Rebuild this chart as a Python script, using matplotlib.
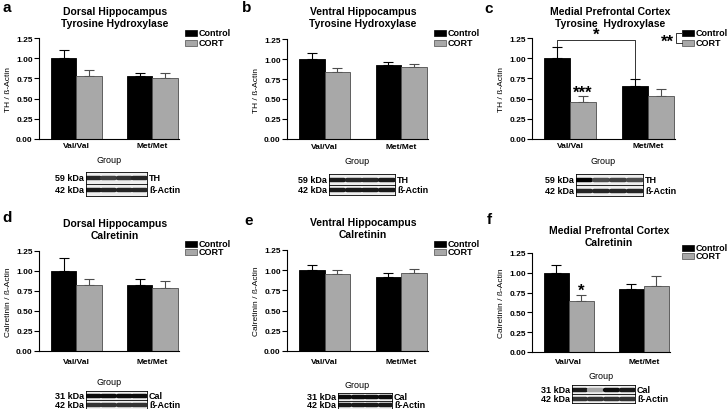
import numpy as np
import matplotlib
matplotlib.use('Agg')
import matplotlib.pyplot as plt
from matplotlib.patches import Rectangle
from matplotlib.lines import Line2D

plt.rcParams['font.family'] = ['Liberation Sans', 'DejaVu Sans']
plt.rcParams['font.weight'] = 'bold'

W, H = 727, 410

groups = ['Val/Val', 'Met/Met']

# bar heights and upper SEM
a_ctrl = [1.00, 0.78]
a_ctrl_err = [0.10, 0.04]
a_cort = [0.78, 0.76]
a_cort_err = [0.07, 0.06]

b_ctrl = [1.00, 0.92]
b_ctrl_err = [0.07, 0.04]
b_cort = [0.84, 0.90]
b_cort_err = [0.05, 0.04]

c_ctrl = [1.00, 0.65]
c_ctrl_err = [0.14, 0.09]
c_cort = [0.46, 0.53]
c_cort_err = [0.07, 0.09]

d_ctrl = [1.00, 0.83]
d_ctrl_err = [0.16, 0.07]
d_cort = [0.83, 0.79]
d_cort_err = [0.07, 0.08]

e_ctrl = [1.00, 0.92]
e_ctrl_err = [0.06, 0.04]
e_cort = [0.95, 0.97]
e_cort_err = [0.05, 0.05]

f_ctrl = [1.00, 0.80]
f_ctrl_err = [0.10, 0.06]
f_cort = [0.645, 0.835]
f_cort_err = [0.08, 0.12]

# western blot band darkness per lane (0 = none, 1 = black)
a_th_bands = [0.85, 0.75, 0.8, 0.85]
a_act_bands = [0.9, 0.85, 0.85, 0.85]
b_th_bands = [0.9, 0.85, 0.85, 0.9]
b_act_bands = [0.9, 0.9, 0.9, 0.9]
c_th_bands = [1.0, 0.7, 0.75, 0.7]
c_act_bands = [0.85, 0.85, 0.85, 0.85]
d_cal_bands = [0.95, 0.95, 0.95, 0.95]
d_act_bands = [0.8, 0.8, 0.8, 0.8]
e_cal_bands = [0.95, 0.95, 0.95, 0.95]
e_act_bands = [0.9, 0.9, 0.9, 0.9]
f_cal_bands = [0.9, 0.35, 0.95, 0.9]
f_act_bands = [0.8, 0.8, 0.8, 0.8]

GRAY = '#a8a8a8'
GRAY_EDGE = '#4d4d4d'

fig = plt.figure(figsize=(W / 100, H / 100), dpi=100)


def fr(l, r, t, b):
    # pixel box -> figure fraction rect
    return [l / W, 1 - b / H, (r - l) / W, (b - t) / H]


def fx(x):
    return x / W


def fy(y):
    return 1 - y / H


def bar_panel(rect, ctrl, ctrl_err, cort, cort_err, ylabel, tickpad, labelpad):
    ax = fig.add_axes(fr(*rect))
    x = np.arange(len(groups))
    w = 0.335
    ax.bar(x - w / 2, ctrl, w, color='black', edgecolor='black', lw=0.6, zorder=2)
    ax.bar(x + w / 2, cort, w, color=GRAY, edgecolor=GRAY_EDGE, lw=0.6, zorder=2)
    ax.errorbar(x - w / 2, ctrl, yerr=[np.zeros(2), ctrl_err], fmt='none',
                ecolor='black', elinewidth=0.8, capsize=3.5, capthick=0.8, zorder=1)
    ax.errorbar(x + w / 2, cort, yerr=[np.zeros(2), cort_err], fmt='none',
                ecolor=GRAY_EDGE, elinewidth=0.8, capsize=3.5, capthick=0.8, zorder=1)
    ax.set_xlim(-0.49, 1.35)
    ax.set_ylim(0, 1.25)
    ax.set_yticks([0, 0.25, 0.5, 0.75, 1.0, 1.25])
    ax.set_yticklabels(['%.2f' % v for v in [0, 0.25, 0.5, 0.75, 1.0, 1.25]])
    ax.set_xticks(x)
    ax.set_xticklabels(groups)
    ax.spines['top'].set_visible(False)
    ax.spines['right'].set_visible(False)
    ax.spines['left'].set_linewidth(0.8)
    ax.spines['bottom'].set_linewidth(0.8)
    ax.tick_params(axis='y', length=3.5, width=0.8, pad=1, labelsize=6)
    ax.tick_params(axis='x', length=0, pad=tickpad, labelsize=6)
    ax.set_ylabel(ylabel, fontsize=6, labelpad=3)
    ax.set_xlabel('Group', fontsize=6.5, labelpad=labelpad)
    return ax


def legend_at(x, y, dy):
    fig.add_artist(Rectangle((fx(x), fy(y + 5.5)), 12 / W, 5.5 / H, transform=fig.transFigure,
                             facecolor='black', edgecolor='black', lw=0.5))
    fig.add_artist(Rectangle((fx(x), fy(y + dy + 5.5)), 12 / W, 5.5 / H, transform=fig.transFigure,
                             facecolor=GRAY, edgecolor=GRAY_EDGE, lw=0.5))
    fig.text(fx(x + 14), fy(y + 2.75), 'Control', fontsize=6.5, va='center', ha='left')
    fig.text(fx(x + 14), fy(y + dy + 2.75), 'CORT', fontsize=6.5, va='center', ha='left')


def blot(l, r, t, m, b, kda, name, bands, act_bands):
    rows = [(t, m, bands, kda, name), (m, b, act_bands, '42 kDa', 'ß-Actin')]
    for top, bot, dark, kd, nm in rows:
        bax = fig.add_axes(fr(l, r, top, bot))
        bax.set_facecolor('#efefef')
        bax.set_xlim(0, 4)
        bax.set_ylim(0, 1)
        bax.set_xticks([])
        bax.set_yticks([])
        for s in bax.spines.values():
            s.set_linewidth(0.6)
        for i, d in enumerate(dark):
            bax.plot([i + 0.08, i + 0.92], [0.5, 0.5], color=str(round(1 - d, 2)),
                     lw=3.2, solid_capstyle='round')
        fig.text(fx(l - 2), fy((top + bot) / 2), kd, ha='right', va='center', fontsize=6.5)
        fig.text(fx(r + 2), fy((top + bot) / 2), nm, ha='left', va='center', fontsize=6.5)


# ---- panel a
bar_panel((39, 179, 39, 140), a_ctrl, a_ctrl_err, a_cort, a_cort_err, 'TH / ß-Actin', 2.5, 4.3)
fig.text(fx(115), fy(18), 'Dorsal Hippocampus\nTyrosine Hydroxylase', ha='center', va='center',
         fontsize=7.5, linespacing=1.15)
fig.text(fx(7), fy(8), 'a', fontsize=11, ha='center', va='center')
legend_at(185, 31, 10)
blot(86, 147, 173, 185, 197, '59 kDa', 'TH', a_th_bands, a_act_bands)

# ---- panel b
bar_panel((287, 428, 40, 140), b_ctrl, b_ctrl_err, b_cort, b_cort_err, 'TH / ß-Actin', 3.1, 4.2)
fig.text(fx(363), fy(18), 'Ventral Hippocampus\nTyrosine Hydroxylase', ha='center', va='center',
         fontsize=7.5, linespacing=1.15)
fig.text(fx(247), fy(8), 'b', fontsize=11, ha='center', va='center')
legend_at(434, 31, 10)
blot(329, 395, 175, 186, 196, '59 kDa', 'TH', b_th_bands, b_act_bands)

# ---- panel c
axc = bar_panel((532, 675, 39, 140), c_ctrl, c_ctrl_err, c_cort, c_cort_err, 'TH / ß-Actin', 2.5, 4.8)
fig.text(fx(610), fy(18), 'Medial Prefrontal Cortex\nTyrosine  Hydroxylase', ha='center', va='center',
         fontsize=7.5, linespacing=1.15)
fig.text(fx(489), fy(9), 'c', fontsize=11, ha='center', va='center')
legend_at(682, 31, 10)
blot(576, 643, 175, 186, 197, '59 kDa', 'TH', c_th_bands, c_act_bands)
# genotype effect bracket between control bars
w = 0.335
y_top = 1.225
axc.plot([-w / 2, -w / 2, 1 - w / 2, 1 - w / 2],
         [c_ctrl[0] + c_ctrl_err[0] + 0.01, y_top, y_top, c_ctrl[1] + c_ctrl_err[1] + 0.01],
         color='#333333', lw=0.7, clip_on=False)
axc.text(0.5 - w / 2, y_top - 0.02, '*', ha='center', va='bottom', fontsize=12)
axc.text(w / 2, c_cort[0] + c_cort_err[0] - 0.04, '***', ha='center', va='bottom', fontsize=12)
# treatment effect bracket next to legend
fig.add_artist(Line2D([fx(682), fx(676), fx(676), fx(682)], [fy(33.75), fy(33.75), fy(43.75), fy(43.75)],
                      transform=fig.transFigure, color='#333333', lw=0.7))
fig.text(fx(673.5), fy(42), '**', ha='right', va='center', fontsize=12)

# ---- panel d
bar_panel((39, 179, 252, 352), d_ctrl, d_ctrl_err, d_cort, d_cort_err, 'Calretinin / ß-Actin', 5.3, 8.5)
fig.text(fx(115), fy(230), 'Dorsal Hippocampus\nCalretinin', ha='center', va='center',
         fontsize=7.5, linespacing=1.15)
fig.text(fx(7), fy(218), 'd', fontsize=11, ha='center', va='center')
legend_at(185, 242, 8)
blot(86, 147, 392, 401, 410, '31 kDa', 'Cal', d_cal_bands, d_act_bands)

# ---- panel e
bar_panel((287, 428, 251, 352), e_ctrl, e_ctrl_err, e_cort, e_cort_err, 'Calretinin / ß-Actin', 5.3, 10.5)
fig.text(fx(363), fy(229), 'Ventral Hippocampus\nCalretinin', ha='center', va='center',
         fontsize=7.5, linespacing=1.15)
fig.text(fx(249), fy(221), 'e', fontsize=11, ha='center', va='center')
legend_at(434, 242, 8)
blot(338, 392, 394, 402, 410, '31 kDa', 'Cal', e_cal_bands, e_act_bands)

# ---- panel f
axf = bar_panel((532, 670, 254, 353), f_ctrl, f_ctrl_err, f_cort, f_cort_err, 'Calretinin / ß-Actin', 4.6, 4.2)
fig.text(fx(609), fy(237), 'Medial Prefrontal Cortex\nCalretinin', ha='center', va='center',
         fontsize=7.5, linespacing=1.15)
fig.text(fx(489), fy(220), 'f', fontsize=11, ha='center', va='center')
legend_at(682, 246, 8)
blot(572, 635, 386, 395, 404, '31 kDa', 'Cal', f_cal_bands, f_act_bands)
axf.text(w / 2, f_cort[0] + f_cort_err[0] - 0.04, '*', ha='center', va='bottom', fontsize=12)

fig.savefig('out.png', dpi=100)
